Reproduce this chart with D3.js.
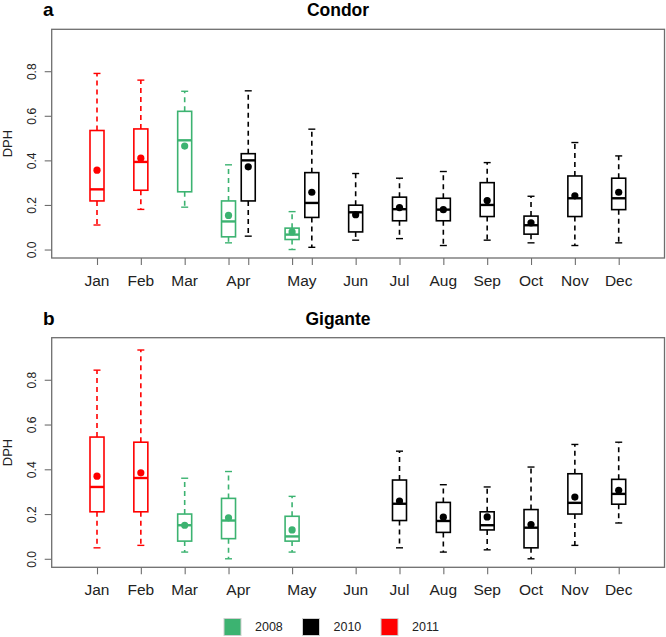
<!DOCTYPE html>
<html><head><meta charset="utf-8">
<script src="https://cdn.jsdelivr.net/npm/d3@7"></script>
<style>
html,body{margin:0;padding:0;background:#fff;}
svg{display:block;font-family:"Liberation Sans",Arial,sans-serif;}
</style></head>
<body>
<script>
// ---------- DATA ----------
const months = ["Jan","Feb","Mar","Apr","May","Jun","Jul","Aug","Sep","Oct","Nov","Dec"];
const yTicks = [0.0, 0.2, 0.4, 0.6, 0.8];
const years = ["2008","2010","2011"];

// Condor (panel a)
const condorMonth = ["Jan","Feb","Mar","Apr","Apr","May","May","Jun","Jul","Aug","Sep","Oct","Nov","Dec"];
const condorYear  = ["2011","2011","2008","2008","2010","2008","2010","2010","2010","2010","2010","2010","2010","2010"];
const condorMin   = [0.11,0.18,0.19,0.03,0.06,0.00,0.01,0.042,0.049,0.018,0.042,0.03,0.018,0.03];
const condorQ1    = [0.218,0.266,0.259,0.057,0.218,0.045,0.144,0.079,0.129,0.129,0.148,0.069,0.148,0.179];
const condorMed   = [0.27,0.393,0.49,0.126,0.40,0.067,0.209,0.167,0.181,0.179,0.20,0.109,0.23,0.23];
const condorQ3    = [0.534,0.541,0.62,0.218,0.43,0.096,0.345,0.199,0.235,0.23,0.30,0.15,0.33,0.32];
const condorMax   = [0.79,0.76,0.71,0.38,0.712,0.17,0.54,0.341,0.32,0.35,0.39,0.239,0.48,0.42];
const condorMean  = [0.356,0.41,0.464,0.153,0.371,0.079,0.257,0.156,0.188,0.179,0.22,0.12,0.241,0.257];

// Gigante (panel b)
const giganteMonth = ["Jan","Feb","Mar","Apr","May","Jul","Aug","Sep","Oct","Nov","Dec"];
const giganteYear  = ["2011","2011","2008","2008","2008","2010","2010","2010","2010","2010","2010"];
const giganteMin   = [0.049,0.06,0.03,0.00,0.03,0.049,0.03,0.04,0.00,0.06,0.16];
const giganteQ1    = [0.21,0.21,0.079,0.09,0.079,0.171,0.118,0.129,0.049,0.20,0.244];
const giganteMed   = [0.321,0.361,0.15,0.171,0.10,0.246,0.169,0.15,0.139,0.25,0.29];
const giganteQ3    = [0.544,0.521,0.20,0.27,0.19,0.352,0.252,0.21,0.22,0.38,0.355];
const giganteMax   = [0.843,0.933,0.36,0.39,0.279,0.481,0.331,0.321,0.41,0.511,0.521];
const giganteMean  = [0.369,0.384,0.15,0.183,0.129,0.258,0.186,0.187,0.153,0.276,0.306];

// ---------- LAYOUT ----------
const W = 666, H = 637;
const yearColor = {"2008":"#3cb371","2010":"#000000","2011":"#ff0000"};
// slot positions along the x axis (Apr and May hold two boxes side by side)
const slotOf = (m, y) => {
  if (m==="Apr" && y==="2010") return 4.45;
  if (m==="May" && y==="2010") return 5.9;
  return {Jan:1,Feb:2,Mar:3,Apr:4,May:5.45,Jun:6.9,Jul:7.9,Aug:8.9,Sep:9.9,Oct:10.9,Nov:11.9,Dec:12.9}[m];
};
const labelSlot = {Jan:1,Feb:2,Mar:3,Apr:4.225,May:5.675,Jun:6.9,Jul:7.9,Aug:8.9,Sep:9.9,Oct:10.9,Nov:11.9,Dec:12.9};

const svg = d3.select("body").append("svg").attr("width",W).attr("height",H);

const x = d3.scaleLinear().domain([1,12.9]).range([97,618.7]);
const plotL = 51.7, plotR = 664.5;

function panel(opt){
  const {top, bottom, letter, title, mon, yr, mn, q1, md, q3, mx, mean} = opt;
  const y = d3.scaleLinear().domain([-0.038,0.988]).range([bottom, top]);
  const g = svg.append("g");
  // frame
  g.append("rect").attr("x",plotL).attr("y",top).attr("width",plotR-plotL).attr("height",bottom-top)
    .attr("fill","none").attr("stroke","#6e6e6e").attr("stroke-width",1.3);
  // y axis
  const ya = g.append("g").attr("transform",`translate(${plotL},0)`)
    .call(d3.axisLeft(y).tickValues(yTicks).tickFormat(d3.format(".1f")).tickSize(7).tickPadding(0));
  ya.select(".domain").remove();
  ya.selectAll("line").attr("stroke","#6e6e6e").attr("stroke-width",1.1);
  ya.selectAll("text").attr("fill","#222").style("font-size","12px")
    .attr("text-anchor","middle")
    .attr("transform","translate(-20,0) rotate(-90)").attr("x",0).attr("y",0).attr("dy","0.35em");
  // x ticks
  const xa = g.append("g").attr("transform",`translate(0,${bottom})`)
    .call(d3.axisBottom(x).tickValues(opt.tickSlots).tickFormat("").tickSize(7));
  xa.select(".domain").remove();
  xa.selectAll("line").attr("stroke","#6e6e6e").attr("stroke-width",1.1);
  // month labels
  g.selectAll("text.mon").data(months).enter().append("text").attr("class","mon")
    .attr("x",d=>x(labelSlot[d])).attr("y",bottom+28).attr("text-anchor","middle")
    .attr("fill","#222").style("font-size","15.5px").text(d=>d);
  // y label
  g.append("text").attr("transform",`translate(11.5,${(top+bottom)/2}) rotate(-90)`)
    .attr("text-anchor","middle").style("font-size","13px").attr("fill","#222").text("DPH");
  // titles
  g.append("text").attr("x",43).attr("y",top-13).style("font-size","19px").style("font-weight","bold").text(letter);
  g.append("text").attr("x",338).attr("y",top-13).attr("text-anchor","middle")
    .style("font-size","17.5px").style("font-weight","bold").text(title);
  // boxes
  const rows = mon.map((m,i)=>({m, yr:yr[i], mn:mn[i], q1:q1[i], md:md[i], q3:q3[i], mx:mx[i], mean:mean[i]}));
  const hw = 7, cw = 3.5;
  const b = g.selectAll("g.box").data(rows).enter().append("g").attr("class","box");
  b.each(function(d){
    const s = d3.select(this), cx = x(slotOf(d.m,d.yr)), c = yearColor[d.yr];
    s.append("line").attr("x1",cx).attr("x2",cx).attr("y1",y(d.q3)).attr("y2",y(d.mx))
      .attr("stroke",c).attr("stroke-width",1.6).attr("stroke-dasharray","5,4");
    s.append("line").attr("x1",cx).attr("x2",cx).attr("y1",y(d.q1)).attr("y2",y(d.mn))
      .attr("stroke",c).attr("stroke-width",1.6).attr("stroke-dasharray","5,4");
    [d.mx,d.mn].forEach(v=>s.append("line").attr("x1",cx-cw).attr("x2",cx+cw).attr("y1",y(v)).attr("y2",y(v))
      .attr("stroke",c).attr("stroke-width",1.4));
    s.append("rect").attr("x",cx-hw).attr("width",2*hw).attr("y",y(d.q3)).attr("height",y(d.q1)-y(d.q3))
      .attr("fill","#fff").attr("stroke",c).attr("stroke-width",1.6);
    s.append("line").attr("x1",cx-hw).attr("x2",cx+hw).attr("y1",y(d.md)).attr("y2",y(d.md))
      .attr("stroke",c).attr("stroke-width",2.4);
    s.append("circle").attr("cx",cx).attr("cy",y(d.mean)).attr("r",3.6).attr("fill",c);
  });
}

panel({top:29.3, bottom:258, letter:"a", title:"Condor",
  mon:condorMonth, yr:condorYear, mn:condorMin, q1:condorQ1, md:condorMed, q3:condorQ3, mx:condorMax, mean:condorMean,
  tickSlots:condorMonth.map((m,i)=>slotOf(m,condorYear[i]))});
panel({top:337.7, bottom:567.3, letter:"b", title:"Gigante",
  mon:giganteMonth, yr:giganteYear, mn:giganteMin, q1:giganteQ1, md:giganteMed, q3:giganteQ3, mx:giganteMax, mean:giganteMean,
  tickSlots:[1,2,3,4,5.45,6.9,7.9,8.9,9.9,10.9,11.9,12.9]});

// legend
const legX = [224, 302.5, 381];
const lg = svg.append("g");
years.forEach((yv,i)=>{
  lg.append("rect").attr("x",legX[i]).attr("y",618.5).attr("width",17).attr("height",17)
    .attr("fill",yearColor[yv]).attr("stroke","#cfcfcf").attr("stroke-width",1);
  lg.append("text").attr("x",legX[i]+31).attr("y",631).style("font-size","12.5px").attr("fill","#222").text(yv);
});
</script>
</body></html>
